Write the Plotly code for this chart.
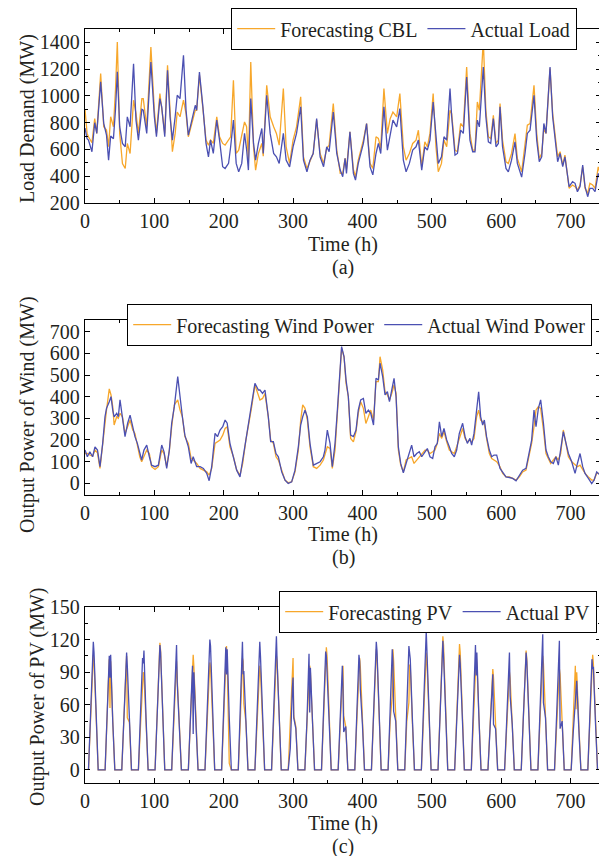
import plotly.graph_objects as go

# ---------------- Data ----------------
# Panel (a): load demand (MW)
LOAD_HOURS = [0, 3, 5, 10, 14, 17, 22.6, 27, 31, 34, 37, 41, 44, 46.6, 50, 54, 58, 61, 65, 70, 73.5, 77, 82, 84,
              89, 95, 100, 103, 108, 110.6, 115, 119, 122.6, 126, 130, 133, 137, 142, 145.7, 149, 154, 159, 161,
              165, 170, 174.5, 178, 181, 185, 190, 194, 198.5, 202, 207, 210, 214, 218, 221.6, 226, 230, 233,
              235.6, 239, 243, 246, 250, 255, 257, 262, 267, 272, 276, 280, 286, 290, 295, 300, 305, 311, 315,
              320, 324.4, 329, 334, 339, 344, 348.5, 352, 358, 363, 368, 371.6, 375, 377, 382, 387, 390, 394,
              401.4, 406, 411, 415, 419.6, 423, 426.4, 431, 436, 440, 444, 449.4, 454, 459, 463, 467.7, 472.5,
              477.3, 480.7, 485.5, 490, 493.6, 497.4, 502, 506, 509.4, 514, 517.6, 521.5, 526.3, 528.7, 533.5,
              537, 541.6, 545.5, 550.3, 555, 559, 562.3, 565.7, 568.6, 574.3, 578, 581.6, 585, 588.8, 592.6,
              596, 598.4, 602, 607, 610.4, 615, 620, 623.4, 629.6, 634.4, 637.8, 641.7, 647.4, 651.3, 655,
              658.5, 661.6, 664.7, 670.5, 674.3, 677.7, 681.5, 685, 688.8, 692, 695.5, 698, 703, 706.6, 710,
              713.8, 717.6, 721, 724.8, 728, 732, 735.4, 740, 744]
ACTUAL_LOAD = [760, 680, 670, 583, 800, 720, 1105, 795, 707, 520, 700, 680, 900, 1180, 770, 645, 620, 844, 770,
               1241, 820, 670, 900, 893, 720, 1253, 844, 695, 980, 918, 695, 1191, 844, 670, 844, 1005, 980, 1303,
               893, 707, 818, 930, 893, 1179, 918, 645, 545, 670, 570, 819, 670, 471, 458, 496, 620, 819, 496,
               433, 496, 720, 600, 446, 980, 645, 520, 645, 757, 570, 1005, 720, 570, 545, 496, 720, 520, 470,
               620, 720, 918, 520, 433, 520, 570, 831, 545, 471, 620, 583, 880, 570, 446, 396, 533, 421, 732,
               421, 371, 496, 645, 794, 470, 410, 570, 645, 570, 918, 595, 720, 819, 769, 905, 520, 433, 496,
               595, 620, 670, 446, 620, 595, 670, 955, 670, 496, 545, 695, 670, 1055, 844, 558, 570, 744, 720,
               1142, 670, 583, 583, 819, 769, 1216, 844, 657, 645, 831, 620, 645, 918, 620, 458, 433, 520, 657,
               496, 393, 570, 720, 744, 1005, 670, 508, 545, 794, 720, 1216, 844, 670, 508, 570, 471, 545, 421,
               322, 359, 347, 284, 322, 483, 322, 247, 310, 310, 284, 421, 359]
FORECAST_CBL = [900, 720, 695, 650, 830, 720, 1167, 770, 745, 620, 844, 770, 1050, 1403, 720, 495, 458, 645, 570,
                968, 870, 720, 980, 980, 770, 1365, 893, 720, 1017, 918, 720, 1229, 844, 583, 720, 880, 844, 968,
                868, 695, 794, 893, 893, 1154, 905, 670, 632, 670, 645, 844, 695, 645, 632, 670, 695, 1117, 570,
                595, 695, 806, 770, 520, 1254, 620, 446, 570, 645, 550, 1080, 844, 770, 720, 632, 1055, 620, 496,
                670, 769, 993, 545, 458, 520, 570, 819, 570, 496, 608, 632, 943, 595, 421, 421, 533, 450, 732,
                450, 396, 520, 670, 794, 496, 458, 695, 682, 608, 1055, 720, 830, 880, 844, 1017, 620, 520, 570,
                645, 670, 744, 470, 657, 620, 720, 1017, 620, 433, 496, 670, 620, 893, 868, 595, 583, 794, 769,
                1216, 720, 595, 595, 955, 893, 1415, 893, 695, 682, 856, 645, 670, 943, 670, 508, 496, 570, 719,
                533, 433, 620, 782, 794, 1080, 720, 533, 570, 757, 720, 1204, 868, 695, 545, 583, 483, 558, 433,
                310, 334, 322, 297, 334, 471, 310, 272, 347, 334, 310, 470, 400]

# Panel (b): wind power (MW)
WIND_HOURS = [0, 3.4, 7, 11, 14.4, 18, 21.6, 25.5, 28.8, 31, 35, 37.5, 40, 42, 45.7, 48, 50.5, 54, 57.7, 61.5, 65,
              68.8, 72, 75.5, 79, 81.7, 85, 89, 92.8, 96, 101, 105.8, 110.6, 114, 117.8, 121.6, 125, 128.8, 133.7,
              137, 140.4, 144, 149, 153, 156, 161, 166, 170.7, 175.5, 179, 182.7, 187.5, 191, 194.7, 198.6, 202,
              205, 209, 214, 218.7, 223.5, 227.4, 232, 235.6, 240.4, 245, 250, 252.3, 256, 259.5, 264.3, 267.7,
              271.6, 275.4, 278.8, 283.6, 288.4, 293, 298, 302.8, 307.6, 311, 313.9, 317.2, 320.6, 324.4, 329.2,
              334, 339, 343.7, 346, 349.4, 353.3, 356.6, 360.5, 363.9, 366.8, 370, 373.5, 376.4, 379.7, 383, 387,
              390.8, 394, 397.5, 401.4, 405, 408.6, 412, 416, 419.6, 423, 425.4, 429.2, 432.6, 436, 439, 442.3,
              445.6, 448.5, 451.8, 455.2, 459, 463, 466.3, 471, 474.4, 478.3, 482, 485.5, 490.3, 493.6, 497.4,
              501.3, 504.6, 508, 511, 514.3, 517.6, 521.5, 525.3, 528.7, 532.5, 535.9, 539.7, 544.5, 548, 551.3,
              555, 557.5, 560.9, 564.7, 567.6, 570.5, 573.4, 575.8, 579, 583, 586.4, 589.7, 593.6, 598.4, 602.2,
              607, 612, 616.7, 621.5, 626.3, 631, 635.9, 639.2, 644, 647.4, 650.3, 653.7, 657, 661, 664.7, 668,
              671.5, 675.3, 679, 682.5, 685.9, 689.7, 693.6, 697, 701.8, 706.6, 710, 713.8, 717.6, 721, 725.8,
              730.6, 734, 737.8, 742.6, 744]
ACTUAL_WIND = [153, 122, 145, 122, 168, 153, 76, 184, 307, 346, 377, 400, 338, 307, 323, 307, 385, 292, 215, 277,
               315, 261, 215, 184, 137, 107, 153, 176, 122, 83, 76, 83, 176, 145, 68, 153, 277, 354, 493, 392, 307,
               222, 168, 91, 122, 76, 76, 68, 45, 11, 76, 230, 215, 246, 261, 292, 277, 184, 122, 60, 29, 107, 215,
               277, 385, 462, 431, 431, 415, 431, 307, 192, 192, 137, 122, 52, 14, -2, 6, 60, 168, 269, 307, 338,
               307, 184, 83, 91, 99, 122, 153, 245, 184, 76, 184, 338, 493, 632, 585, 477, 400, 222, 215, 246, 338,
               385, 392, 323, 338, 323, 269, 485, 477, 555, 493, 408, 423, 377, 431, 485, 400, 168, 91, 48, 91, 122,
               176, 122, 137, 145, 122, 145, 160, 122, 114, 168, 184, 284, 215, 253, 200, 168, 137, 122, 153, 230,
               277, 215, 184, 207, 176, 230, 330, 423, 307, 269, 292, 215, 153, 122, 130, 130, 68, 52, 29, 26, 22,
               11, 37, 60, 68, 122, 199, 338, 261, 346, 385, 277, 153, 122, 99, 91, 122, 83, 153, 238, 184, 137, 99,
               45, 91, 137, 76, 45, 22, -2, 14, 52, 37, 40]
FORECAST_WIND = [137, 137, 130, 125, 153, 140, 68, 184, 292, 338, 436, 408, 354, 269, 307, 300, 323, 307, 230, 261,
                 292, 246, 230, 176, 122, 99, 122, 153, 137, 76, 63, 76, 153, 137, 76, 150, 261, 362, 385, 338, 307,
                 215, 184, 114, 107, 91, 68, 60, 52, 37, 68, 184, 191, 199, 222, 253, 261, 168, 122, 60, 37, 91, 199,
                 261, 354, 454, 408, 385, 392, 415, 307, 199, 184, 122, 107, 60, 14, 2, 6, 52, 153, 292, 362, 346,
                 292, 168, 76, 68, 83, 107, 137, 168, 161, 68, 153, 323, 477, 624, 585, 462, 400, 207, 191, 238, 323,
                 377, 346, 276, 307, 338, 292, 470, 470, 585, 524, 423, 408, 385, 415, 454, 415, 153, 83, 52, 107,
                 114, 122, 91, 107, 122, 137, 153, 153, 137, 145, 153, 184, 230, 207, 238, 191, 153, 145, 137, 168,
                 207, 253, 207, 191, 199, 191, 207, 307, 338, 292, 284, 276, 207, 137, 114, 107, 99, 76, 45, 29, 29,
                 22, 14, 29, 52, 60, 114, 184, 261, 338, 354, 346, 246, 137, 114, 91, 107, 122, 107, 137, 246, 168,
                 122, 99, 83, 76, 83, 60, 45, 29, 14, 14, 45, 45, 45]

# Panel (c): PV power (MW), one row per day, sampled at the hours of day in PV_DAY_HOURS
PV_DAY_HOURS = [5, 8, 11, 12, 13, 16, 19]
ACTUAL_PV = [
    [0, 50, 105, 118, 108, 50, 0], [0, 45, 105, 85, 106, 45, 0], [0, 46, 100, 108, 96, 44, 0],
    [0, 45, 103, 98, 110, 48, 0], [0, 50, 105, 115, 108, 50, 0], [0, 48, 105, 115, 80, 40, 0],
    [0, 42, 96, 33, 90, 42, 0], [0, 52, 110, 120, 114, 52, 0], [0, 48, 113, 88, 111, 48, 0],
    [0, 50, 118, 88, 91, 45, 0], [0, 50, 110, 118, 105, 50, 0], [0, 52, 110, 123, 100, 50, 0],
    [0, 20, 75, 85, 48, 38, 0], [0, 45, 107, 53, 94, 45, 0], [0, 48, 109, 105, 91, 45, 0],
    [0, 42, 96, 74, 35, 40, 0], [0, 46, 106, 100, 74, 42, 0], [0, 50, 112, 118, 110, 50, 0],
    [0, 48, 111, 100, 54, 45, 0], [0, 50, 114, 108, 102, 48, 0], [0, 55, 118, 128, 110, 52, 0],
    [0, 52, 112, 119, 105, 50, 0], [0, 48, 100, 106, 98, 46, 0], [0, 50, 115, 87, 108, 48, 0],
    [0, 40, 85, 88, 42, 38, 0], [0, 45, 103, 108, 68, 42, 0], [0, 48, 104, 108, 100, 46, 0],
    [0, 52, 115, 125, 62, 48, 0], [0, 50, 112, 119, 38, 45, 0], [0, 35, 70, 74, 82, 38, 0],
    [0, 45, 102, 93, 95, 44, 0]]
FORECAST_PV = [
    [0, 45, 100, 106, 100, 45, 0], [0, 45, 102, 57, 100, 45, 0], [0, 46, 100, 105, 48, 44, 0],
    [0, 40, 88, 90, 88, 40, 0], [0, 50, 110, 117, 110, 50, 0], [0, 45, 98, 100, 84, 42, 0],
    [0, 45, 100, 106, 95, 44, 0], [0, 45, 95, 99, 95, 44, 0], [0, 46, 105, 114, 100, 6, 0],
    [0, 46, 103, 100, 61, 44, 0], [0, 44, 96, 96, 90, 42, 0], [0, 46, 100, 105, 100, 45, 0],
    [0, 46, 100, 103, 50, 40, 0], [0, 42, 94, 96, 90, 42, 0], [0, 50, 108, 113, 105, 48, 0],
    [0, 44, 96, 96, 50, 40, 0], [0, 46, 100, 103, 95, 44, 0], [0, 48, 105, 111, 105, 47, 0],
    [0, 45, 68, 111, 100, 45, 0], [0, 45, 62, 97, 95, 44, 0], [0, 48, 104, 108, 100, 46, 0],
    [0, 52, 115, 123, 115, 50, 0], [0, 50, 110, 116, 108, 48, 0], [0, 46, 100, 105, 98, 45, 0],
    [0, 42, 90, 93, 85, 40, 0], [0, 40, 86, 90, 84, 40, 0], [0, 48, 104, 110, 102, 46, 0],
    [0, 46, 100, 105, 98, 45, 0], [0, 42, 90, 93, 88, 42, 0], [0, 44, 96, 56, 90, 42, 0],
    [0, 46, 100, 106, 98, 45, 0]]

X_TICKS = [0, 100, 200, 300, 400, 500, 600, 700]

# ---------------- Figure ----------------
# The page body adds an 8px offset, so the figure is sized to the visible window area.
OFF = 8
W, H = 607 - OFF, 856 - OFF
FONT = "Liberation Serif"
TXT = "#231F20"
ORANGE = "#F7A72B"
BLUE = "#4B50B2"


def px(x):
    return (x - OFF) / W


def py(y):
    return 1 - (y - OFF) / H


def flatten_pv(days):
    xs, ys = [], []
    for d, vals in enumerate(days):
        for hr, v in zip(PV_DAY_HOURS, vals):
            xs.append(d * 24 + hr)
            ys.append(v)
    return xs, ys


pv_x_a, pv_y_a = flatten_pv(ACTUAL_PV)
pv_x_f, pv_y_f = flatten_pv(FORECAST_PV)

fig = go.Figure()
lw = 1.3
fig.add_trace(go.Scatter(x=LOAD_HOURS, y=FORECAST_CBL, mode="lines", name="Forecasting CBL",
                         line=dict(color=ORANGE, width=lw), xaxis="x", yaxis="y", legend="legend"))
fig.add_trace(go.Scatter(x=LOAD_HOURS, y=ACTUAL_LOAD, mode="lines", name="Actual Load",
                         line=dict(color=BLUE, width=lw), xaxis="x", yaxis="y", legend="legend"))
fig.add_trace(go.Scatter(x=WIND_HOURS, y=FORECAST_WIND, mode="lines", name="Forecasting Wind Power",
                         line=dict(color=ORANGE, width=lw), xaxis="x2", yaxis="y2", legend="legend2"))
fig.add_trace(go.Scatter(x=WIND_HOURS, y=ACTUAL_WIND, mode="lines", name="Actual Wind Power",
                         line=dict(color=BLUE, width=lw), xaxis="x2", yaxis="y2", legend="legend2"))
fig.add_trace(go.Scatter(x=pv_x_f, y=pv_y_f, mode="lines", name="Forecasting PV",
                         line=dict(color=ORANGE, width=lw), xaxis="x3", yaxis="y3", legend="legend3"))
fig.add_trace(go.Scatter(x=pv_x_a, y=pv_y_a, mode="lines", name="Actual PV",
                         line=dict(color=BLUE, width=lw), xaxis="x3", yaxis="y3", legend="legend3"))

xdom = [px(85), px(601)]


def ydom(top, bottom):
    return [py(bottom), py(top)]


axis_common = dict(showline=True, linecolor="black", linewidth=1.3, mirror="ticks", ticks="inside",
                   ticklen=5, tickwidth=1, tickcolor="black", showgrid=False, zeroline=False,
                   automargin=False, tickfont=dict(family=FONT, size=20, color=TXT))
minor_x = dict(dtick=50, ticks="inside", ticklen=3, tickcolor="black", showgrid=False)

for i, (top, bottom) in enumerate([(29, 203), (320, 495), (607, 783)]):
    sfx = "" if i == 0 else str(i + 1)
    fig.layout["xaxis" + sfx] = dict(domain=xdom, range=[0, 744], tickvals=X_TICKS, minor=minor_x,
                                     anchor="y" + sfx, **axis_common)

fig.layout["yaxis"] = dict(domain=ydom(29, 203), range=[200, 1500], tick0=200, dtick=200, anchor="x",
                           minor=dict(dtick=100, ticks="inside", ticklen=3, tickcolor="black", showgrid=False),
                           **axis_common)
fig.layout["yaxis2"] = dict(domain=ydom(320, 495), range=[-55, 755], tick0=0, dtick=100, anchor="x2",
                            **axis_common)
fig.layout["yaxis3"] = dict(domain=ydom(607, 783), range=[-12, 150], tick0=0, dtick=30, anchor="x3",
                            minor=dict(dtick=15, ticks="inside", ticklen=3, tickcolor="black", showgrid=False),
                            **axis_common)

leg_common = dict(orientation="h", xanchor="left", yanchor="top", bgcolor="white", bordercolor="black",
                  borderwidth=1.2, font=dict(family=FONT, size=20, color=TXT), itemwidth=38,
                  tracegroupgap=0)
fig.update_layout(
    legend=dict(x=px(231), y=py(8), **leg_common),
    legend2=dict(x=px(127), y=py(304), **leg_common),
    legend3=dict(x=px(279), y=py(591), **leg_common),
)

annotations = []
for ty in [244, 534, 823]:
    annotations.append(dict(text="Time (h)", x=px(343), y=py(ty)))
for lab, ly in [("(a)", 267), ("(b)", 557), ("(c)", 846)]:
    annotations.append(dict(text=lab, x=px(343), y=py(ly)))
for t, tx, ty in [("Load Demand (MW)", 27, 119), ("Output Power of Wind (MW)", 27, 415),
                  ("Output Power of PV (MW)", 37, 697)]:
    annotations.append(dict(text=t, x=px(tx), y=py(ty), textangle=-90))
for a in annotations:
    a.update(xref="paper", yref="paper", showarrow=False, xanchor="center", yanchor="middle",
             font=dict(family=FONT, size=20, color=TXT))
fig.update_layout(annotations=annotations)

fig.update_layout(width=W, height=H, margin=dict(l=0, r=0, t=0, b=0, autoexpand=False),
                  plot_bgcolor="white", paper_bgcolor="white", showlegend=True)

fig.write_html("out.html")
